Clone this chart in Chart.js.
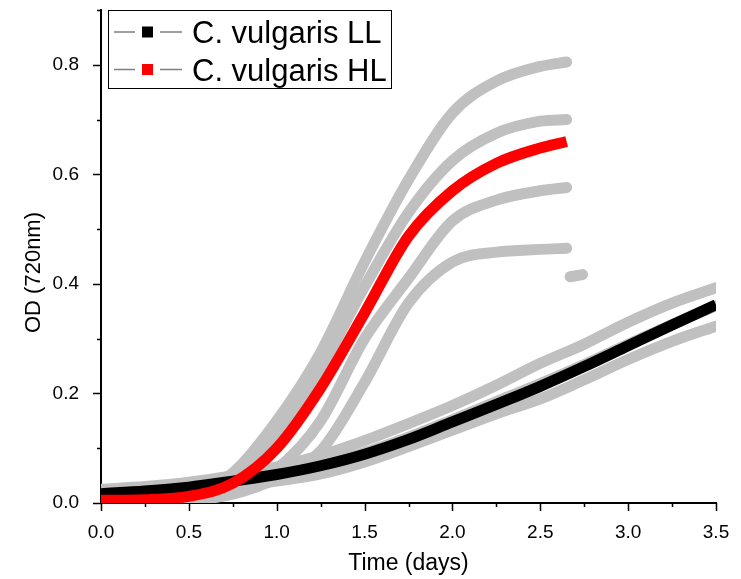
<!DOCTYPE html>
<html>
<head>
<meta charset="utf-8">
<script src="https://cdn.jsdelivr.net/npm/chart.js@4.4.0/dist/chart.umd.min.js"></script>
<style>
  html, body { margin: 0; padding: 0; background: #fff; }
</style>
</head>
<body>
<canvas id="growthChart" width="741" height="579"></canvas>
<script>
// OD (720nm) growth curves

// high light: fit + 4 replicates (all stop at 2.65 d)
const hlTime = [0, 0.25, 0.5, 0.75, 1.0, 1.25, 1.5, 1.75, 2.0, 2.25, 2.5, 2.65];
const hlFit  = [0.005, 0.006, 0.012, 0.036, 0.10, 0.21, 0.347, 0.487, 0.57, 0.62, 0.648, 0.66];
const hlRep1 = [0.006, 0.008, 0.016, 0.055, 0.15, 0.275, 0.44, 0.59, 0.712, 0.77, 0.797, 0.805];
const hlRep2 = [0.006, 0.007, 0.014, 0.045, 0.125, 0.245, 0.395, 0.53, 0.625, 0.675, 0.697, 0.70];
const hlRep3 = [0.004, 0.004, 0.006, 0.022, 0.062, 0.15, 0.30, 0.41, 0.515, 0.553, 0.57, 0.576];
const hlRep4 = [0.003, 0.003, 0.005, 0.016, 0.045, 0.095, 0.22, 0.365, 0.44, 0.458, 0.463, 0.465];
// stray points after the end of the HL run
const hlSpotTime = [2.67, 2.74];
const hlSpot     = [0.413, 0.417];

// low light: fit + 3 replicates
const llTime = [0, 0.25, 0.5, 0.75, 1.0, 1.25, 1.5, 1.75, 2.0, 2.25, 2.5, 2.75, 3.0, 3.25, 3.5];
const llFit  = [0.017, 0.022, 0.029, 0.04, 0.052, 0.068, 0.089, 0.116, 0.148, 0.18, 0.213, 0.249, 0.287, 0.325, 0.362];
const llRep1 = [0.025, 0.03, 0.038, 0.05, 0.066, 0.087, 0.114, 0.145, 0.178, 0.215, 0.255, 0.29, 0.33, 0.365, 0.393];
const llRep2 = [0.018, 0.022, 0.03, 0.041, 0.054, 0.07, 0.092, 0.12, 0.152, 0.185, 0.218, 0.253, 0.29, 0.326, 0.36];
const llRep3 = [0.012, 0.016, 0.021, 0.03, 0.04, 0.053, 0.075, 0.103, 0.133, 0.163, 0.19, 0.225, 0.262, 0.295, 0.323];

const legendLabels = ['C. vulgaris LL', 'C. vulgaris HL'];
const legendColors = ['#000000', '#ff0000'];

const FONT = "'Liberation Sans', Arial, sans-serif";
Chart.defaults.font.family = FONT;
Chart.defaults.color = '#000';

function toPoints(xs, ys) {
    return xs.map((x, i) => ({ x: x, y: ys[i] }));
}

// thick grey replicate trace
function repSet(xs, ys) {
    return {
        data: toPoints(xs, ys),
        borderColor: '#c0c0c0',
        borderWidth: 11,
        borderCapStyle: 'round',
        borderJoinStyle: 'round',
        cubicInterpolationMode: 'monotone',
        pointRadius: 0,
        showLine: true,
        clip: 0
    };
}

function fitSet(label, xs, ys, color) {
    return {
        label: label,
        data: toPoints(xs, ys),
        borderColor: color,
        borderWidth: 11,
        borderCapStyle: 'butt',
        cubicInterpolationMode: 'monotone',
        pointRadius: 0,
        showLine: true,
        clip: 0
    };
}

// origin style ticks: long for labelled, short for minor, pointing out
const axisTicks = {
    id: 'axisTicks',
    afterDraw(chart) {
        const ctx = chart.ctx;
        const xs = chart.scales.x, ys = chart.scales.y;
        ctx.save();
        ctx.strokeStyle = '#000';
        ctx.lineWidth = 1.5;
        xs.ticks.forEach(t => {
            const px = Math.round(xs.getPixelForValue(t.value)) + 0.5;
            const len = t.label ? 8 : 4;
            ctx.beginPath();
            ctx.moveTo(px, xs.top);
            ctx.lineTo(px, xs.top + len);
            ctx.stroke();
        });
        ys.ticks.forEach(t => {
            const py = Math.round(ys.getPixelForValue(t.value)) + 0.5;
            const len = t.label ? 8 : 4;
            ctx.beginPath();
            ctx.moveTo(ys.right, py);
            ctx.lineTo(ys.right - len, py);
            ctx.stroke();
        });
        ctx.restore();
    }
};

// y title sits a bit below the middle of the axis in the original
const yTitle = {
    id: 'yTitle',
    afterDraw(chart) {
        const ctx = chart.ctx;
        const area = chart.chartArea;
        ctx.save();
        ctx.translate(34, (area.top + area.bottom) / 2 + 16);
        ctx.rotate(-Math.PI / 2);
        ctx.font = '22px ' + FONT;
        ctx.fillStyle = '#000';
        ctx.textAlign = 'center';
        ctx.textBaseline = 'middle';
        ctx.fillText('OD (720nm)', 0, 0);
        ctx.restore();
    }
};

// boxed legend: line - square - line, then the label
const boxLegend = {
    id: 'boxLegend',
    afterDraw(chart) {
        const ctx = chart.ctx;
        const area = chart.chartArea;
        const left = area.left + 7, top = area.top;
        ctx.save();
        ctx.strokeStyle = '#000';
        ctx.lineWidth = 1;
        ctx.strokeRect(left + 0.5, top + 0.5, 283, 78);
        legendLabels.forEach((label, i) => {
            const cy = top + 22 + i * 37.5;
            ctx.strokeStyle = '#808080';
            ctx.lineWidth = 1.5;
            ctx.beginPath();
            ctx.moveTo(left + 6, cy);
            ctx.lineTo(left + 27, cy);
            ctx.moveTo(left + 52, cy);
            ctx.lineTo(left + 74, cy);
            ctx.stroke();
            ctx.fillStyle = legendColors[i];
            ctx.fillRect(left + 34, cy - 5.5, 11, 11);
            ctx.fillStyle = '#000';
            ctx.font = '31px ' + FONT;
            ctx.textBaseline = 'alphabetic';
            ctx.fillText(label, left + 84, cy + 11);
        });
        ctx.restore();
    }
};

new Chart(document.getElementById('growthChart'), {
    type: 'scatter',
    data: {
        datasets: [
            fitSet(legendLabels[1], hlTime, hlFit, '#ff0000'),
            fitSet(legendLabels[0], llTime, llFit, '#000000'),
            repSet(hlTime, hlRep1),
            repSet(hlTime, hlRep2),
            repSet(hlTime, hlRep3),
            repSet(hlTime, hlRep4),
            repSet(hlSpotTime, hlSpot),
            repSet(llTime, llRep1),
            repSet(llTime, llRep2),
            repSet(llTime, llRep3)
        ]
    },
    options: {
        responsive: false,
        animation: false,
        devicePixelRatio: 1,
        layout: { padding: { top: 10, right: 25, left: 0, bottom: 0 } },
        plugins: {
            legend: { display: false },
            tooltip: { enabled: false }
        },
        scales: {
            x: {
                type: 'linear',
                min: 0,
                max: 3.5,
                grid: { display: false },
                border: { display: true, color: '#000', width: 2 },
                ticks: {
                    stepSize: 0.25,
                    autoSkip: false,
                    maxRotation: 0,
                    padding: 10,
                    z: 1,
                    font: { size: 19 },
                    callback: v => (Math.round(v * 4) % 2 === 0 ? v.toFixed(1) : '')
                },
                title: {
                    display: true,
                    text: 'Time (days)',
                    font: { size: 23 },
                    padding: { top: 0, bottom: 2 }
                },
                afterFit: s => {
                    s.height = 76;
                    s.paddingLeft = 0;
                    s.paddingRight = 0;
                }
            },
            y: {
                type: 'linear',
                min: 0,
                max: 0.9,
                grid: { display: false },
                border: { display: true, color: '#000', width: 2 },
                ticks: {
                    stepSize: 0.1,
                    autoSkip: false,
                    padding: 14,
                    z: 1,
                    font: { size: 19 },
                    callback: v => (Math.round(v * 10) % 2 === 0 ? v.toFixed(1) : '')
                },
                afterFit: s => {
                    s.width = 101;
                    s.paddingTop = 0;
                    s.paddingBottom = 0;
                }
            }
        }
    },
    plugins: [axisTicks, yTitle, boxLegend]
});
</script>
</body>
</html>
